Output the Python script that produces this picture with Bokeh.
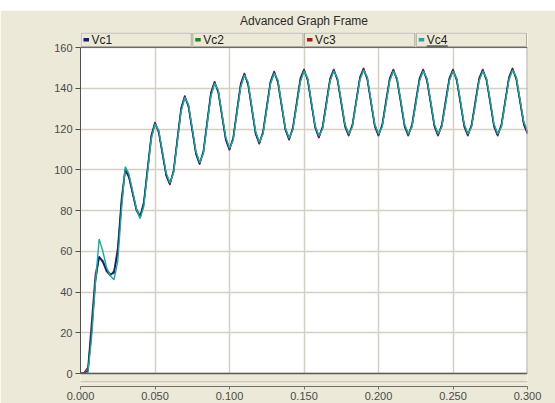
import numpy as np
from bokeh.plotting import figure
from bokeh.layouts import column
from bokeh.models import ColumnDataSource, Range1d, LinearAxis, FixedTicker, Spacer
from bokeh.core.properties import value
from bokeh.embed import file_html
from bokeh.resources import INLINE

# ---------------- data ----------------
TIME_STEP = 0.0025  # sampling interval of the traces, seconds

vc1 = [0, 0, 1.5, 22, 46, 57.5, 55, 50.5, 48.5, 49.5, 60, 84,
       100, 96.6, 88.5, 80.4, 77, 83.7, 100, 116.3,
       123, 118.6, 108, 97.4, 93, 99.3, 114.5, 129.7,
       136, 131.2, 119.5, 107.8, 103, 108.8, 123, 137.2,
       143, 138.2, 126.5, 114.8, 110, 115.4, 128.5, 141.6,
       147, 142, 130, 118, 113, 118.1, 130.5, 142.9,
       148, 143.2, 131.5, 119.8, 115, 120, 132, 144,
       149, 144.2, 132.5, 120.8, 116, 120.8, 132.5, 144.2,
       149, 144.3, 133, 121.7, 117, 121.7, 133.2, 144.8,
       149.5, 144.8, 133.2, 121.7, 117, 121.7, 133, 144.3,
       149, 144.3, 133, 121.7, 117, 121.7, 133, 144.3,
       149, 144.3, 133, 121.7, 117, 121.7, 133, 144.3,
       149, 144.3, 133, 121.7, 117, 121.7, 133, 144.3,
       149, 144.3, 133, 121.7, 117, 121.7, 133.2, 144.8,
       149.5, 144.9, 133.8, 122.6, 118]

vc2 = [0, 0, 1, 21, 45, 57, 55.5, 51, 49, 49, 59, 83,
       99.5, 97, 89, 81, 77.5, 83, 99, 115.5,
       122.5, 119, 108.5, 98, 93.5, 99, 114, 129,
       135.5, 131.5, 120, 108.5, 103.5, 108.5, 122.5, 136.5,
       142.5, 138.5, 127, 115.5, 110.5, 115, 128, 141,
       146.5, 142.5, 130.5, 118.5, 113.5, 118, 130, 142.5,
       147.5, 143.5, 132, 120.5, 115.5, 120, 131.5, 143.5,
       148.5, 144.5, 133, 121.5, 116.5, 120.5, 132, 144,
       149, 144.5, 133.5, 122, 117.5, 121.5, 133, 144.5,
       149, 145, 133.5, 122, 117.5, 121.5, 132.5, 144,
       148.5, 144.5, 133.5, 122, 117.5, 121.5, 132.5, 144,
       148.5, 144.5, 133.5, 122, 117.5, 121.5, 132.5, 144,
       148.5, 144.5, 133.5, 122, 117.5, 121.5, 132.5, 144,
       148.5, 144.5, 133.5, 122, 117.5, 121.5, 133, 144.5,
       149, 145, 134, 123, 118.5]

vc3 = [0, 0.5, 3, 26, 49, 57, 54.5, 50, 48, 50.5, 62, 86,
       100.5, 96, 88, 80, 76.5, 84.5, 101, 117,
       123.5, 118, 107.5, 97, 92.5, 100, 115.5, 130.5,
       136.5, 130.5, 119, 107.5, 102.5, 109.5, 124, 138,
       143.5, 137.5, 126, 114.5, 109.5, 116, 129.5, 142.5,
       147.5, 141.5, 129.5, 117.5, 112.5, 119, 131.5, 143.5,
       148.5, 142.5, 131, 119.5, 114.5, 121, 133, 145,
       149.5, 143.5, 132, 120.5, 115.5, 121.5, 133.5, 145,
       149.5, 143.5, 132.5, 121, 116.5, 122.5, 134, 145.5,
       150, 144, 132.5, 121, 116.5, 122.5, 134, 145,
       149.5, 143.5, 132.5, 121, 116.5, 122.5, 134, 145,
       149.5, 143.5, 132.5, 121, 116.5, 122.5, 134, 145,
       149.5, 143.5, 132.5, 121, 116.5, 122.5, 134, 145,
       149.5, 143.5, 132.5, 121, 116.5, 122.5, 134, 145.5,
       150, 144, 133, 122, 117.5]

vc4 = [0, 0, 0.5, 18, 44, 66, 60, 52, 48, 46, 55, 80,
       101.5, 98, 89.5, 81, 76, 82, 98.5, 115,
       122.5, 119.5, 109, 98.5, 93.5, 98.5, 113.5, 128.5,
       135.5, 132, 120.5, 109, 103.5, 108, 122, 136,
       142.5, 139, 127.5, 116, 110.5, 114.5, 127.5, 140.5,
       146.5, 143, 131, 119, 113.5, 117.5, 129.5, 142,
       147.5, 144, 132.5, 120.5, 115.5, 119.5, 131, 143,
       148.5, 145, 133.5, 121.5, 116.5, 120, 131.5, 143.5,
       148.5, 145, 134, 122.5, 117.5, 121, 132.5, 144,
       149, 145.5, 134, 122.5, 117.5, 121, 132, 143.5,
       148.5, 145, 134, 122.5, 117.5, 121, 132, 143.5,
       148.5, 145, 134, 122.5, 117.5, 121, 132, 143.5,
       148.5, 145, 134, 122.5, 117.5, 121, 132, 143.5,
       148.5, 145, 134, 122.5, 117.5, 121, 132.5, 144,
       149, 145.5, 134.5, 123.5, 119]

SERIES_NAMES = ["Vc1", "Vc2", "Vc3", "Vc4"]
SERIES_COLORS = ["#0C1C8C", "#0E8E1E", "#A81818", "#22A8A0"]
X_TICKS = [0.0, 0.05, 0.1, 0.15, 0.2, 0.25, 0.3]
X_TICK_LABELS = ["0.000", "0.050", "0.100", "0.150", "0.200", "0.250", "0.300"]
Y_TICKS = [0, 20, 40, 60, 80, 100, 120, 140, 160]
TITLE = "Advanced Graph Frame"

t = np.arange(len(vc1)) * TIME_STEP
source = ColumnDataSource(dict(t=t, Vc1=vc1, Vc2=vc2, Vc3=vc3, Vc4=vc4))

# ---------------- layout constants (page pixels) ----------------
BEIGE = "#ECE9D8"
FONT = "Liberation Sans"
W, H = 555, 403
TOP_PAD = 10                    # white strip above the frame window
FRAME_L, FRAME_R = 80, 527      # x = 0 .. 0.3
FRAME_T, FRAME_B = 31, 385      # frame incl. legend row and bottom strip
ZERO_Y, TOP_Y = 372, 46         # value 0 and value 160
PX_PER_X = (FRAME_R - FRAME_L) / 0.3
PX_PER_Y = (ZERO_Y - TOP_Y) / 160.0

def dx(px):
    return (px - FRAME_L) / PX_PER_X

def dy(py):
    return (ZERO_Y - py) / PX_PER_Y

p = figure(frame_width=FRAME_R - FRAME_L, frame_height=FRAME_B - FRAME_T,
           min_border_left=FRAME_L, min_border_right=W - FRAME_R,
           min_border_top=FRAME_T - TOP_PAD, min_border_bottom=H - FRAME_B,
           x_range=Range1d(0, 0.3), y_range=Range1d(dy(FRAME_B), dy(FRAME_T)),
           output_backend="svg", toolbar_location=None, tools="")
p.border_fill_color = BEIGE
p.background_fill_color = "white"
p.outline_line_color = None

p.grid.grid_line_color = "#D3D0C3"
p.grid.grid_line_width = 1.5
p.xaxis.ticker = X_TICKS
p.yaxis.ticker = Y_TICKS
p.xaxis.bounds = (0, 0.3)
p.yaxis.bounds = (0, 160)
p.xaxis.major_label_overrides = {tk: lb for tk, lb in zip(X_TICKS, X_TICK_LABELS)}
for ax in (p.xaxis, p.yaxis):
    ax.minor_tick_line_color = None
    ax.major_tick_in = 0
    ax.major_label_text_font = FONT
    ax.major_label_text_font_size = "11px"
    ax.major_label_text_color = "#4A4A4A"
p.yaxis.major_tick_out = 5
p.yaxis.major_label_standoff = 3
p.yaxis.axis_line_color = "#505050"
p.yaxis.major_tick_line_color = "#505050"
p.xaxis.major_tick_out = 3
p.xaxis.major_label_standoff = 2
p.xaxis.axis_line_color = "#707070"
p.xaxis.major_tick_line_color = "#707070"

# frame title carried by an empty axis above the plot
title_axis = LinearAxis(ticker=FixedTicker(ticks=[]), axis_label=TITLE,
                        bounds=(0, dx(486)), axis_line_color=None,
                        major_tick_line_color=None, minor_tick_line_color=None,
                        axis_label_standoff=5, axis_label_text_font=FONT,
                        axis_label_text_font_size="12px", axis_label_text_font_style="normal",
                        axis_label_text_color="#2A2A2A")
p.add_layout(title_axis, "above")

# traces
for i in [2, 1, 0, 3]:
    p.line("t", SERIES_NAMES[i], source=source, color=SERIES_COLORS[i], line_width=1.4)

# beige strip between plot area and x axis (inside the frame), with separator line
p.quad(left=[dx(FRAME_L - 2)], right=[dx(FRAME_R + 2)], top=[dy(ZERO_Y)], bottom=[dy(FRAME_B + 2)],
       fill_color=BEIGE, line_color=None)
p.quad(left=[dx(FRAME_L - 2)], right=[dx(FRAME_R + 2)], top=[dy(380)], bottom=[dy(381)],
       fill_color="#ABA899", line_color=None)
p.quad(left=[dx(FRAME_L - 2)], right=[dx(FRAME_R + 2)], top=[dy(381)], bottom=[dy(382)],
       fill_color="#FAF9F4", line_color=None)
# plot area border
p.segment(x0=[0], y0=[0], x1=[0.3], y1=[0], line_color="#5A5A5A", line_width=1.5)
p.segment(x0=[0.3], y0=[0], x1=[0.3], y1=[160], line_color="#A8A8A8", line_width=2)

# legend row inside the top of the frame
cell_w = (FRAME_R - FRAME_L) / 4.0
lefts = [FRAME_L + k * cell_w for k in range(4)]
p.quad(left=[dx(l) for l in lefts], right=[dx(l + cell_w) for l in lefts],
       top=[dy(FRAME_T - 1)] * 4, bottom=[dy(TOP_Y)] * 4, fill_color=BEIGE, line_color=None)
p.quad(left=[dx(l + 0.5) for l in lefts], right=[dx(l + cell_w - 1) for l in lefts],
       top=[dy(31.5)] * 4, bottom=[dy(45)] * 4, fill_color=None,
       line_color="#B0AD9F", line_width=1)
p.segment(x0=[0], y0=[160], x1=[0.3], y1=[160], line_color="#6A6A6A", line_width=1)
p.quad(left=[dx(l + 3) for l in lefts], right=[dx(l + 8.5) for l in lefts],
       top=[dy(36.5)] * 4, bottom=[dy(40)] * 4, fill_color=SERIES_COLORS, line_color=None)
p.text(x=[dx(l + 11) for l in lefts], y=[dy(38)] * 4, text=SERIES_NAMES,
       text_align="left", text_baseline="middle", text_font=value(FONT),
       text_font_size="12px", text_color="#1E1E1E")
p.segment(x0=[dx(lefts[3] + 11)], y0=[dy(44.5)], x1=[dx(lefts[3] + 32)], y1=[dy(44.5)],
          line_color="#1E1E1E", line_width=1)

layout = column(Spacer(width=W, height=TOP_PAD), p, spacing=0)
open("out.html", "w").write(file_html(layout, INLINE))
